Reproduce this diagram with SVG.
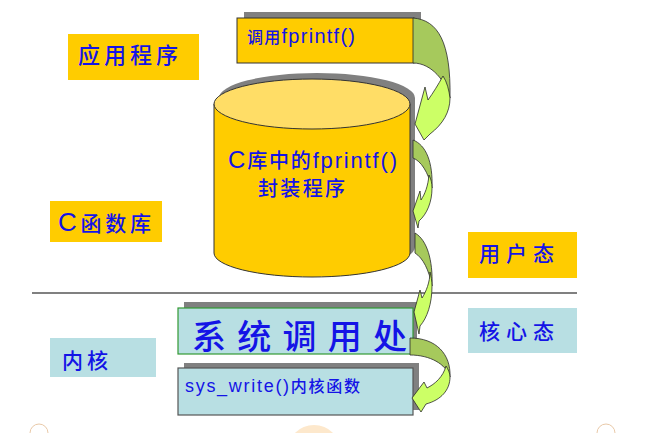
<svg xmlns="http://www.w3.org/2000/svg" width="648" height="433" viewBox="0 0 648 433">
<style>
.lbl{font-family:"Noto Sans CJK SC","Liberation Sans",sans-serif;fill:#1414e6;font-weight:500;}
.lat{font-family:"Liberation Sans","Noto Sans CJK SC",sans-serif;fill:#1414e6;font-weight:normal;}
.yel{fill:#ffcc00;}
.blu{fill:#b8dfe3;}
.shd{fill:#808080;}
.dk{fill:#a6c95c;stroke:#2a2a2a;stroke-width:0.8;}
.lt{fill:#ccff66;stroke:#2a2a2a;stroke-width:0.8;}
</style>
<rect width="648" height="433" fill="#ffffff"/>
<!-- faint background decorations -->
<circle cx="314" cy="452" r="27" fill="#fde8cc"/>
<g stroke="#e9c9a8" stroke-width="1" fill="none">
<path d="M30,433 A9,9 0 0 1 48,433"/>
<path d="M597,433 A9,9 0 0 1 615,433"/>
</g>

<g id="label-app">
<rect class="yel" x="68" y="34" width="131" height="46"/>
<text class="lbl" x="78" y="63" font-size="22" textLength="100" lengthAdjust="spacing">应用程序</text>
</g>
<g id="label-clib">
<rect class="yel" x="50" y="201" width="112" height="41"/>
<text x="58" y="231" textLength="93" lengthAdjust="spacing"><tspan class="lat" font-size="26">C</tspan><tspan class="lbl" font-size="21">函数库</tspan></text>
</g>
<g id="label-user">
<rect class="yel" x="468" y="232" width="109" height="46"/>
<text class="lbl" x="479" y="261" font-size="21" textLength="75" lengthAdjust="spacing">用户态</text>
</g>
<g id="label-kernelmode">
<rect class="blu" x="468" y="308" width="109" height="45"/>
<text class="lbl" x="479" y="339" font-size="21" textLength="75" lengthAdjust="spacing">核心态</text>
</g>
<g id="label-kernel">
<rect class="blu" x="50" y="338" width="106" height="39"/>
<text class="lbl" x="62" y="368" font-size="21" textLength="46" lengthAdjust="spacing">内核</text>
</g>

<line id="divider" x1="32" y1="293" x2="577" y2="293" stroke="#808080" stroke-width="2"/>

<g id="node-call">
<rect class="shd" x="244" y="12" width="177" height="45"/>
<rect class="yel" x="237" y="18" width="177" height="45" stroke="#333333" stroke-width="1"/>
<text x="247" y="43" textLength="108" lengthAdjust="spacing"><tspan class="lbl" font-size="16">调用</tspan><tspan class="lat" font-size="20">fprintf()</tspan></text>
</g>

<g id="node-lib">
<path class="shd" d="M219,98 V247 A98,24 0 0 0 415,247 V98 A98,25 0 0 0 219,98 Z"/>
<path d="M214,104 V253 A98,24 0 0 0 410,253 V104 Z" fill="#ffcc00" stroke="#333333" stroke-width="1"/>
<ellipse cx="312" cy="104" rx="98" ry="25" fill="#ffdd66" stroke="#333333" stroke-width="1"/>
<text x="228" y="168" textLength="169" lengthAdjust="spacing"><tspan class="lat" font-size="24">C</tspan><tspan class="lbl" font-size="20">库中的</tspan><tspan class="lat" font-size="22">fprintf()</tspan></text>
<text class="lbl" x="258" y="196" font-size="20" textLength="87" lengthAdjust="spacing">封装程序</text>
</g>

<g id="node-syscall">
<rect class="shd" x="184" y="302" width="233" height="46"/>
<rect class="blu" x="178" y="308" width="235" height="46" stroke="#339933" stroke-width="1.2"/>
<text class="lbl" x="192" y="349" font-size="34" font-weight="bold" textLength="215" lengthAdjust="spacing">系统调用处</text>
</g>

<g id="node-syswrite">
<rect class="shd" x="184" y="363" width="235" height="47"/>
<rect class="blu" x="178" y="368" width="235" height="47" stroke="#555555" stroke-width="1.2"/>
<text x="185" y="392" textLength="175" lengthAdjust="spacing"><tspan class="lat" font-size="18">sys_write()</tspan><tspan class="lbl" font-size="16">内核函数</tspan></text>
</g>

<g id="connectors">
<!-- arrow 1: call -> lib -->
<path class="dk" d="M413,18 C438,20 451,42 450,98 C446,82 432,63 413,63 Z"/>
<path class="lt" d="M443,76 C438,85 433,93 428,100 L425,87 L415,124 L424,140 L430,134 C443,124 450,112 450,98 C449,90 447,82 443,76 Z"/>
<!-- arrow 2 -->
<path class="dk" d="M413,140 C426,145 433,162 432,188 C428,172 421,161 413,158 Z"/>
<path class="lt" d="M429,175 C428,186 425,194 421,200 L420,191 L413,211 L418,228 L419,221 C427,214 432,202 432,188 C432,183 431,179 429,175 Z"/>
<!-- arrow 3 -->
<path class="dk" d="M415,233 C427,240 433,260 432,286 C429,270 423,258 415,253 Z"/>
<path class="lt" d="M430,272 C430,282 426,292 422,298 L420,290 L414,312 L419,334 L420,326 C427,318 432,304 432,286 C432,281 431,276 430,272 Z"/>
<!-- arrow 4: syscall -> sys_write -->
<path class="dk" d="M410,338 C436,338 451,354 450,377 C446,364 430,355 410,355 Z"/>
<path class="lt" d="M446,366 C443,377 435,384 427,388 L424,382 L412,398 L421,412 L426,404 C441,400 450,390 450,377 C450,373 448,369 446,366 Z"/>
</g>
</svg>
